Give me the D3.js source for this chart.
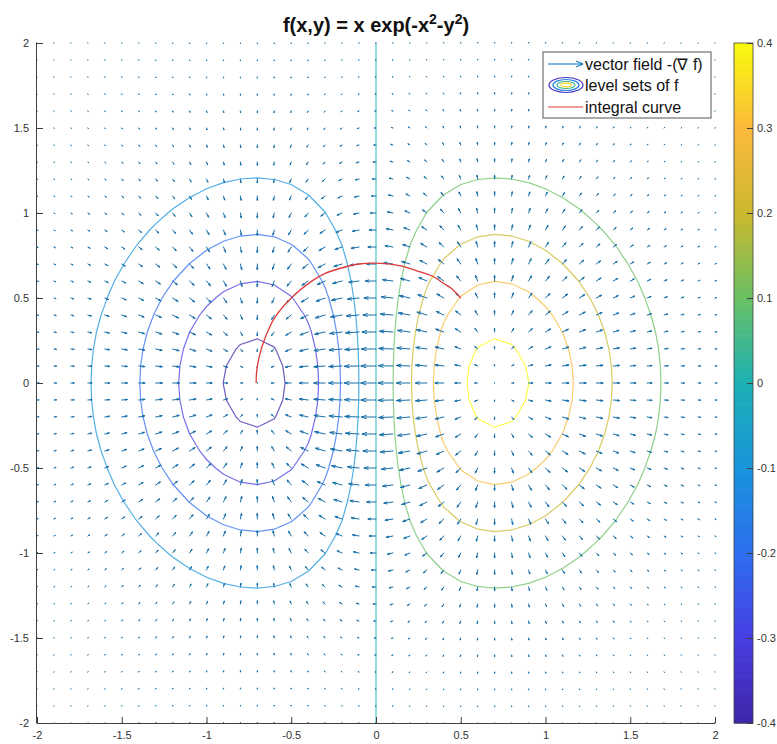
<!DOCTYPE html>
<html>
<head>
<meta charset="utf-8">
<script src="https://cdn.jsdelivr.net/npm/d3@7"></script>
<style>
  body { margin: 0; background: #fff; }
  text { font-family: "Liberation Sans", Arial, sans-serif; }
</style>
</head>
<body>
<script>
// grid of the quiver (meshgrid -2:0.1:2)
var gridPts = [-2,-1.9,-1.8,-1.7,-1.6,-1.5,-1.4,-1.3,-1.2,-1.1,-1,-0.9,-0.8,-0.7,-0.6,-0.5,-0.4,-0.3,-0.2,-0.1,
               0,0.1,0.2,0.3,0.4,0.5,0.6,0.7,0.8,0.9,1,1.1,1.2,1.3,1.4,1.5,1.6,1.7,1.8,1.9,2];
var xTicks = [-2,-1.5,-1,-0.5,0,0.5,1,1.5,2];
var yTicks = [-2,-1.5,-1,-0.5,0,0.5,1,1.5,2];
var levels = [-0.4,-0.3,-0.2,-0.1,0,0.1,0.2,0.3,0.4];
var cbarTicks = [-0.4,-0.3,-0.2,-0.1,0,0.1,0.2,0.3,0.4];
// integral curve
var curveX = [0.5,0.44,0.4,0.34,0.24,0.14,0.0,-0.1,-0.21,-0.3,-0.37,-0.5,-0.6,-0.66,-0.69,-0.705,-0.707];
var curveY = [0.5,0.56,0.585,0.625,0.66,0.69,0.705,0.70,0.675,0.645,0.605,0.5,0.38,0.25,0.15,0.06,0.0];
var legendLabels = ["vector field -(\u2207 f)", "level sets of f", "integral curve"];

// parula-like colormap
var parulaStops = ["#3e26a8","#473ee2","#2d6ef0","#1994dc","#1cb0b4","#69c064","#ccb82d","#fbba3c","#f9fb0e"];

// f(x,y) = x exp(-x^2-y^2)
function f(x, y) { return x * Math.exp(-x*x - y*y); }
function gradNeg(x, y) {
    var e = Math.exp(-x*x - y*y);
    return [-(1 - 2*x*x) * e, 2*x*y*e];
}

var fmt = function(d) { return d3.format("~g")(d).replace("\u2212", "-"); };

var W = 777, H = 744;
var xScale = d3.scaleLinear().domain([-2, 2]).range([37, 715]);
var yScale = d3.scaleLinear().domain([-2, 2]).range([723, 43]);
var cScale = d3.scaleLinear()
    .domain(d3.range(parulaStops.length).map(function(i) { return -0.4 + 0.8 * i / (parulaStops.length - 1); }))
    .range(parulaStops)
    .interpolate(d3.interpolateRgb)
    .clamp(true);

var svg = d3.select("body").append("svg")
    .attr("width", W)
    .attr("height", H);

svg.append("defs").append("clipPath").attr("id", "plotclip")
    .append("rect")
    .attr("x", xScale(-2)).attr("y", yScale(2))
    .attr("width", xScale(2) - xScale(-2))
    .attr("height", yScale(-2) - yScale(2));

//Contours (level sets), grid padded past the limits and clipped
var cn = 51, c0 = -2.5, cstep = 0.1;
var vals = [];
for (var j = 0; j < cn; j++) {
    for (var i = 0; i < cn; i++) {
        vals.push(f((i - 25) / 10, (j - 25) / 10));
    }
}
var contours = d3.contours().size([cn, cn]).thresholds(levels)(vals);
// d3 puts grid value k at coordinate k + 0.5
var proj = d3.geoTransform({
    point: function(px, py) {
        this.stream.point(xScale(c0 + (px - 0.5) * cstep), yScale(c0 + (py - 0.5) * cstep));
    }
});
var cpath = d3.geoPath(proj);

svg.append("g")
    .attr("clip-path", "url(#plotclip)")
    .selectAll("path")
    .data(contours)
    .enter()
    .append("path")
    .attr("d", cpath)
    .attr("fill", "none")
    .attr("stroke", function(d) { return cScale(d.value); })
    .attr("stroke-opacity", 0.75)
    .attr("stroke-width", 1.2);

//Quiver
var arrows = [];
gridPts.forEach(function(gx) {
    gridPts.forEach(function(gy) {
	var g = gradNeg(gx, gy);
	arrows.push({x: gx, y: gy, u: g[0], v: g[1]});
    });
});
var maxLen = d3.max(arrows, function(d) { return Math.sqrt(d.u*d.u + d.v*d.v); });
var sc = 0.9 * 0.1 / maxLen;
var alpha = 0.33, beta = 0.33;

svg.append("g")
    .selectAll("path")
    .data(arrows)
    .enter()
    .append("path")
    .attr("d", function(d) {
	var u = d.u * sc, v = d.v * sc;
	var tx = d.x + u, ty = d.y + v;
	var h1x = tx - alpha * (u + beta * v), h1y = ty - alpha * (v - beta * u);
	var h2x = tx - alpha * (u - beta * v), h2y = ty - alpha * (v + beta * u);
	return "M" + xScale(d.x) + "," + yScale(d.y) + "L" + xScale(tx) + "," + yScale(ty) +
	    "M" + xScale(h1x) + "," + yScale(h1y) + "L" + xScale(tx) + "," + yScale(ty) +
	    "L" + xScale(h2x) + "," + yScale(h2y);
    })
    .attr("fill", "none")
    .attr("stroke", "#156ea8")
    .attr("stroke-width", 1)
    .attr("stroke-linecap", "round")
    .attr("stroke-linejoin", "round");

//Integral curve
var curvePts = curveX.map(function(x, i) { return [x, curveY[i]]; });
svg.append("path")
    .datum(curvePts)
    .attr("d", d3.line()
	  .x(function(d) { return xScale(d[0]); })
	  .y(function(d) { return yScale(d[1]); })
	  .curve(d3.curveCatmullRom))
    .attr("fill", "none")
    .attr("stroke", "#dd3b3b")
    .attr("stroke-width", 1.3);

//Axes (left and bottom only, ticks inside)
var axisCol = "#404040";
var xAxis = d3.axisBottom(xScale).tickValues(xTicks).tickSize(-6).tickPadding(8).tickFormat(fmt);
var yAxis = d3.axisLeft(yScale).tickValues(yTicks).tickSize(-6).tickPadding(8).tickFormat(fmt);

var gx = svg.append("g")
    .attr("transform", "translate(0," + yScale(-2) + ")")
    .call(xAxis);
var gy = svg.append("g")
    .attr("transform", "translate(" + xScale(-2) + ",0)")
    .call(yAxis);
[gx, gy].forEach(function(g) {
    g.select(".domain").attr("stroke", axisCol);
    g.selectAll(".tick line").attr("stroke", axisCol);
    g.selectAll(".tick text")
	.attr("fill", "#333")
	.style("font-size", "11px")
	.style("font-family", "'Liberation Sans', Arial, sans-serif");
});
gx.select(".domain").attr("d", "M" + xScale(-2) + ",0.5H" + xScale(2));
gy.select(".domain").attr("d", "M-0.5," + yScale(-2) + "V" + yScale(2));

//Title
var title = svg.append("text")
    .attr("x", 376)
    .attr("y", 32)
    .attr("text-anchor", "middle")
    .style("font-size", "20px")
    .style("font-weight", "bold")
    .attr("fill", "#111");
title.append("tspan").text("f(x,y) = x exp(-x");
title.append("tspan").text("2").attr("dy", -8).style("font-size", "14px");
title.append("tspan").text("-y").attr("dy", 8);
title.append("tspan").text("2").attr("dy", -8).style("font-size", "14px");
title.append("tspan").text(")").attr("dy", 8);

//Colorbar
var cbX = 734, cbW = 19;
var cbY = d3.scaleLinear().domain([-0.4, 0.4]).range([723, 43]);
var nBands = 128;
var bands = d3.range(nBands).map(function(k) { return -0.4 + 0.8 * (k + 0.5) / nBands; });
svg.append("g")
    .selectAll("rect")
    .data(bands)
    .enter()
    .append("rect")
    .attr("x", cbX)
    .attr("width", cbW)
    .attr("y", function(d) { return cbY(d + 0.4 / nBands); })
    .attr("height", (723 - 43) / nBands + 0.6)
    .attr("fill", function(d) { return cScale(d); });
svg.append("rect")
    .attr("x", cbX).attr("y", 43)
    .attr("width", cbW).attr("height", 680)
    .attr("fill", "none")
    .attr("stroke", axisCol)
    .attr("stroke-width", 0.8);
var cAxis = d3.axisRight(cbY).tickValues(cbarTicks).tickSize(-6).tickPadding(4).tickFormat(fmt);
var gc = svg.append("g")
    .attr("transform", "translate(" + (cbX + cbW) + ",0)")
    .call(cAxis);
gc.select(".domain").remove();
gc.selectAll(".tick line").attr("stroke", axisCol);
gc.selectAll(".tick text")
    .attr("fill", "#333")
    .style("font-size", "11px")
    .style("font-family", "'Liberation Sans', Arial, sans-serif");

//Legend
var lg = svg.append("g").attr("transform", "translate(543,52)");
lg.append("rect")
    .attr("width", 168).attr("height", 66)
    .attr("fill", "#fff")
    .attr("stroke", "#555")
    .attr("stroke-width", 1);
var rowY = [12, 33, 55];
// arrow icon
lg.append("path")
    .attr("d", "M5," + rowY[0] + "H40M33," + (rowY[0] - 3) + "L40," + rowY[0] + "L33," + (rowY[0] + 3))
    .attr("fill", "none")
    .attr("stroke", "#0072bd")
    .attr("stroke-width", 1);
// contour icon
[[17, 7.5, -0.35], [13, 5.5, -0.15], [9, 3.5, 0.05], [5, 1.8, 0.35]].forEach(function(e) {
    lg.append("ellipse")
	.attr("cx", 23).attr("cy", rowY[1])
	.attr("rx", e[0]).attr("ry", e[1])
	.attr("fill", "none")
	.attr("stroke", cScale(e[2]))
	.attr("stroke-width", 1.2);
});
// curve icon
lg.append("line")
    .attr("x1", 5).attr("x2", 40)
    .attr("y1", rowY[2]).attr("y2", rowY[2])
    .attr("stroke", "#dd3b3b")
    .attr("stroke-width", 1.2);
lg.selectAll("text.lbl")
    .data(legendLabels)
    .enter()
    .append("text")
    .attr("class", "lbl")
    .attr("x", 42)
    .attr("y", function(d, i) { return rowY[i] + 6; })
    .style("font-size", "16px")
    .attr("fill", "#111")
    .text(function(d) { return d; });
</script>
</body>
</html>
